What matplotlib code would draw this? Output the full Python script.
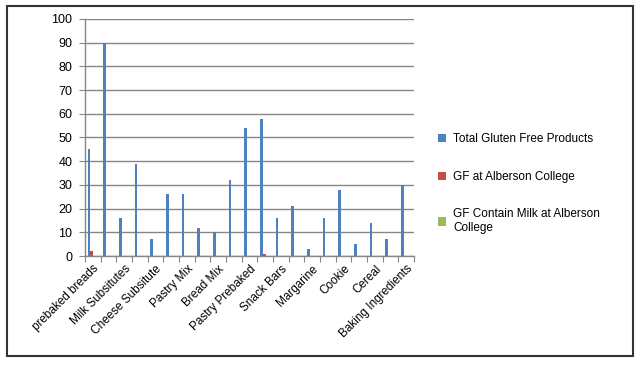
import matplotlib.pyplot as plt
import matplotlib.patches as patches
import numpy as np

plt.rcParams['font.family'] = ['Liberation Sans', 'DejaVu Sans']

# 21 categories, only every other one is labelled in the chart
tick_labels = ['prebaked breads', 'Milk Subsitutes', 'Cheese Subsitute', 'Pastry Mix',
               'Bread Mix', 'Pastry Prebaked', 'Snack Bars', 'Margarine', 'Cookie',
               'Cereal', 'Baking Ingredients']
total_gf = [45, 90, 16, 39, 7, 26, 26, 12, 10, 32, 54, 58, 16, 21, 3, 16, 28, 5, 14, 7, 30]
gf_alberson = [2, 0, 0, 0, 0, 0, 0, 0, 0, 0, 0, 1, 0, 0, 0, 0, 0, 0, 0, 0, 0]
gf_milk = [0] * 21

series_names = ['Total Gluten Free Products', 'GF at Alberson College',
                'GF Contain Milk at Alberson\nCollege']
colors = ['#4F81BD', '#C0504D', '#9BBB59']

fig = plt.figure(figsize=(6.41, 3.65), dpi=100)
ax = fig.add_axes([0.1326, 0.2986, 0.5134, 0.6494])

n = len(total_gf)
x = np.arange(n)
w = 0.18
for i, (vals, name, c) in enumerate(zip([total_gf, gf_alberson, gf_milk], series_names, colors)):
    ax.bar(x - 0.25 + i * w, vals, width=w, color=c, label=name, zorder=3)

ax.set_xlim(-0.5, n - 0.5)
ax.set_ylim(0, 100)
ax.set_yticks(range(0, 101, 10))
ax.tick_params(axis='y', labelsize=9, length=4, color='#868686', pad=5)
ax.yaxis.grid(True, color='#868686', linewidth=1, zorder=0)

# category boundary ticks
ax.set_xticks(np.arange(-0.5, n, 1), minor=False)
ax.set_xticklabels([])
ax.tick_params(axis='x', length=4, color='#868686')
ax.set_xticks(np.arange(0, n, 2), minor=True)
ax.set_xticklabels(tick_labels, minor=True, rotation=45, ha='right',
                   rotation_mode='anchor', fontsize=8.5)
ax.tick_params(axis='x', which='minor', length=0, pad=5)

for s in ['top', 'right']:
    ax.spines[s].set_visible(False)
for s in ['left', 'bottom']:
    ax.spines[s].set_color('#868686')
    ax.spines[s].set_linewidth(1)

ax.legend(loc='center left', bbox_to_anchor=(1.04, 0.305), frameon=False,
          fontsize=8.5, handlelength=0.7, handleheight=0.7, handletextpad=0.6,
          labelspacing=2.15)

fig.patches.append(patches.Rectangle((0.011, 0.0247), 0.9765, 0.9589,
                                     transform=fig.transFigure, fill=False,
                                     edgecolor='#333333', linewidth=1.5))

fig.savefig('out.png', dpi=100)
